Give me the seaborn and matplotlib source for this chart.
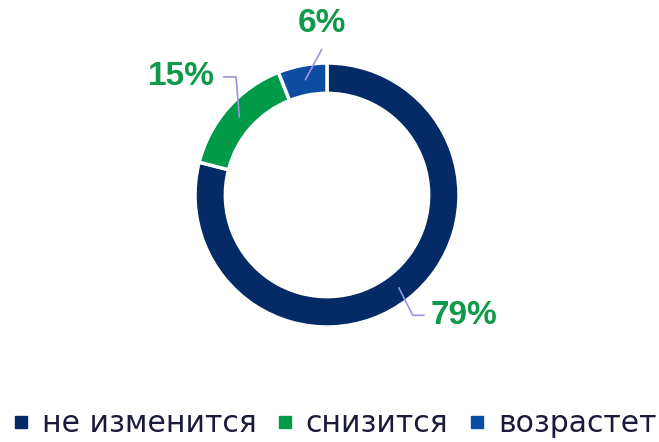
import numpy as np
import matplotlib
matplotlib.use("Agg")
import matplotlib.pyplot as plt
from matplotlib.lines import Line2D
import seaborn as sns

# data
categories = ["не изменится", "снизится", "возрастет"]
shares = [79, 15, 6]
labels = ["79%", "15%", "6%"]
colors = ["#042B66", "#009B48", "#0D4DA1"]

label_color = "#0E9A4A"
leader_color = "#9C94E0"
text_color = "#1B1A3A"

sns.set_theme(style="white")
plt.rcParams["font.family"] = ["DejaVu Sans"]

fig = plt.figure(figsize=(6.59, 4.42), dpi=100)
ax = fig.add_axes([0, 0, 1, 1])

wedges, _ = ax.pie(shares, colors=colors, startangle=90, counterclock=False,
                   radius=1.0, wedgeprops=dict(width=0.23, edgecolor="white", linewidth=2.5))

# axes limits chosen so 1 unit = 132 px and the centre sits at (327, 195) px
ax.set_xlim(-327 / 132, (659 - 327) / 132)
ax.set_ylim(-(442 - 195) / 132, 195 / 132)
ax.set_aspect("auto")
ax.axis("off")

# leader lines: (elbow, end) offsets relative to the ring mid-point, text anchor
leaders = [
    dict(elbow=(0.107, -0.212), end=(0.197, -0.212), text=(0.245, -0.212), ha="left", va="center"),
    dict(elbow=(-0.025, 0.309), end=(-0.124, 0.309), text=(-0.190, 0.309), ha="right", va="center"),
    dict(elbow=(0.128, 0.237), end=(0.128, 0.237), text=(0.125, 0.430), ha="center", va="center"),
]

r_mid = 1.0 - 0.23 / 2
for w, lab, ld in zip(wedges, labels, leaders):
    ang = np.deg2rad((w.theta1 + w.theta2) / 2)
    x0, y0 = r_mid * np.cos(ang), r_mid * np.sin(ang)
    xs = [x0, x0 + ld["elbow"][0], x0 + ld["end"][0]]
    ys = [y0, y0 + ld["elbow"][1], y0 + ld["end"][1]]
    ax.plot(xs, ys, color=leader_color, lw=1.2, solid_capstyle="butt")
    ax.text(x0 + ld["text"][0], y0 + ld["text"][1], lab, ha=ld["ha"], va=ld["va"],
            color=label_color, fontsize=24, fontweight="bold",
            family=["Liberation Sans", "DejaVu Sans"])

handles = [Line2D([0], [0], marker="s", linestyle="none", markersize=9,
                  markerfacecolor=c, markeredgecolor=c) for c in colors]
fig.legend(handles, categories, loc="lower center", bbox_to_anchor=(0.507, 0.008),
           ncol=3, frameon=False, fontsize=21.5, labelcolor=text_color,
           handlelength=0.6, handletextpad=0.4, columnspacing=0.65, borderpad=0,
           borderaxespad=0)

fig.savefig("out.png", dpi=100, facecolor="white")
